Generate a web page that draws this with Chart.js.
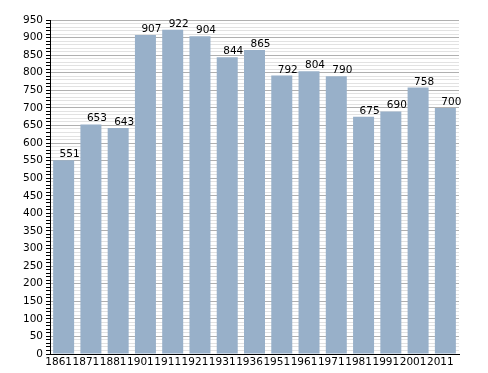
<!DOCTYPE html>
<html>
<head>
<meta charset="utf-8">
<script src="https://cdn.jsdelivr.net/npm/chart.js@4/dist/chart.umd.min.js"></script>
<style>
  html, body { margin: 0; padding: 0; background: #fff; }
  #wrap { width: 488px; height: 373px; }
</style>
</head>
<body>
<div id="wrap"><canvas id="chart"></canvas></div>
<script>
var YEARS = ['1861', '1871', '1881', '1901', '1911', '1921', '1931', '1936', '1951', '1961', '1971', '1981', '1991', '2001', '2011'];
var POP = [551, 653, 643, 907, 922, 904, 844, 865, 792, 804, 790, 675, 690, 758, 700];
var Y_MAX = 950;
var BAR_COLOR = '#98b0c9';
var FONT = { family: 'DejaVu Sans', size: 10.5 };

// value labels above each bar (sit a bit right of the bar centre)
var barLabels = {
  id: 'barLabels',
  afterDatasetsDraw: function(chart) {
    var c = chart.ctx;
    var meta = chart.getDatasetMeta(0);
    c.save();
    c.font = '10.5px "DejaVu Sans"';
    c.fillStyle = '#000';
    c.textAlign = 'center';
    c.textBaseline = 'alphabetic';
    meta.data.forEach(function(bar, i) {
      c.fillText(String(POP[i]), bar.x + 6, bar.y - 3);
    });
    c.restore();
  }
};

var ctx = document.getElementById('chart');
var chart = new Chart(ctx, {
  type: 'bar',
  data: {
    labels: YEARS,
    datasets: [{
      data: POP,
      backgroundColor: BAR_COLOR,
      borderWidth: 0,
      categoryPercentage: 1,
      barPercentage: 0.77
    }]
  },
  options: {
    responsive: true,
    maintainAspectRatio: false,
    animation: false,
    layout: { padding: { top: 20, right: 29, bottom: 0, left: 0 } },
    plugins: {
      legend: { display: false },
      tooltip: { enabled: false }
    },
    scales: {
      x: {
        grid: { display: false, drawTicks: false },
        border: { color: '#000', width: 1 },
        ticks: {
          color: '#000',
          font: FONT,
          maxRotation: 0,
          autoSkip: false,
          padding: 2,
          labelOffset: -5
        },
        afterFit: function(scale) { scale.height = 19; }
      },
      y: {
        min: 0,
        max: Y_MAX,
        grid: {
          color: function(c) {
            return c.tick.value % 50 === 0 ? '#b0b0b0' : '#e2e2e2';
          },
          tickColor: '#000',
          tickLength: 4
        },
        border: { color: '#000', width: 1 },
        ticks: {
          stepSize: 10,
          autoSkip: false,
          color: '#000',
          font: FONT,
          padding: 3,
          callback: function(v) { return v % 50 === 0 ? v : ''; }
        },
        afterFit: function(scale) { scale.width = 50; }
      }
    }
  },
  plugins: [barLabels]
});
</script>
</body>
</html>
